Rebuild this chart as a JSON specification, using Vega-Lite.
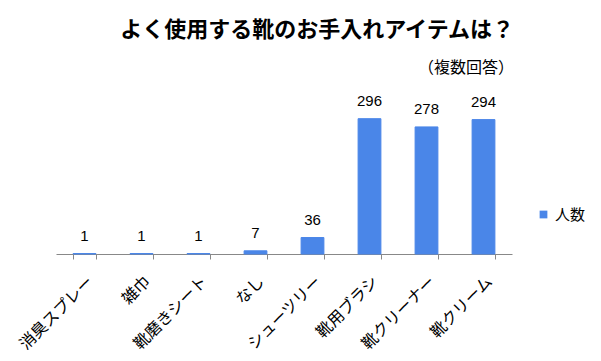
{
  "$schema": "https://vega.github.io/schema/vega-lite/v6.json",
  "autosize": {"type": "none"},
  "padding": {"left": 56, "top": 94, "right": 89, "bottom": 107},
  "width": 456,
  "height": 160,
  "background": "white",
  "title": {
    "text": "よく使用する靴のお手入れアイテムは？",
    "subtitle": "（複数回答）",
    "anchor": "end",
    "frame": "group",
    "dx": 2,
    "offset": 17,
    "font": "Noto Sans CJK JP",
    "fontSize": 22,
    "fontWeight": "bold",
    "color": "#000000",
    "subtitleFont": "Noto Sans CJK JP",
    "subtitleFontSize": 16,
    "subtitleColor": "#000000",
    "subtitlePadding": 18
  },
  "data": {
    "values": [
      {"item": "消臭スプレー", "count": 1, "series": "人数"},
      {"item": "雑巾", "count": 1, "series": "人数"},
      {"item": "靴磨きシート", "count": 1, "series": "人数"},
      {"item": "なし", "count": 7, "series": "人数"},
      {"item": "シューツリー", "count": 36, "series": "人数"},
      {"item": "靴用ブラシ", "count": 296, "series": "人数"},
      {"item": "靴クリーナー", "count": 278, "series": "人数"},
      {"item": "靴クリーム", "count": 294, "series": "人数"}
    ]
  },
  "encoding": {
    "x": {
      "field": "item",
      "type": "nominal",
      "sort": null,
      "scale": {"paddingInner": 0.6, "paddingOuter": 0.3},
      "axis": {
        "title": null,
        "labelAngle": -45,
        "labelAlign": "right",
        "labelBaseline": "top",
        "labelFont": "Noto Sans CJK JP",
        "labelFontSize": 16,
        "labelColor": "#000000",
        "labelPadding": 14,
        "tickBand": "extent",
        "tickSize": 5,
        "tickColor": "#888888",
        "domainColor": "#888888",
        "grid": false
      }
    },
    "y": {
      "field": "count",
      "type": "quantitative",
      "scale": {"domain": [0, 350]},
      "axis": null
    }
  },
  "layer": [
    {
      "mark": {"type": "bar", "stroke": "#4a86e8", "strokeWidth": 1},
      "encoding": {
        "color": {
          "field": "series",
          "type": "nominal",
          "scale": {"range": ["#4a86e8"]},
          "legend": {
            "title": null,
            "orient": "none",
            "legendX": 480,
            "legendY": 113,
            "symbolType": "square",
            "symbolSize": 60,
            "symbolStrokeWidth": 0,
            "labelFont": "Noto Sans CJK JP",
            "labelFontSize": 15,
            "labelColor": "#000000"
          }
        }
      }
    },
    {
      "mark": {"type": "text", "baseline": "bottom", "dy": -10, "font": "Liberation Sans", "fontSize": 15, "color": "#000000"},
      "encoding": {"text": {"field": "count", "type": "quantitative"}}
    }
  ],
  "config": {"view": {"stroke": null}}
}
